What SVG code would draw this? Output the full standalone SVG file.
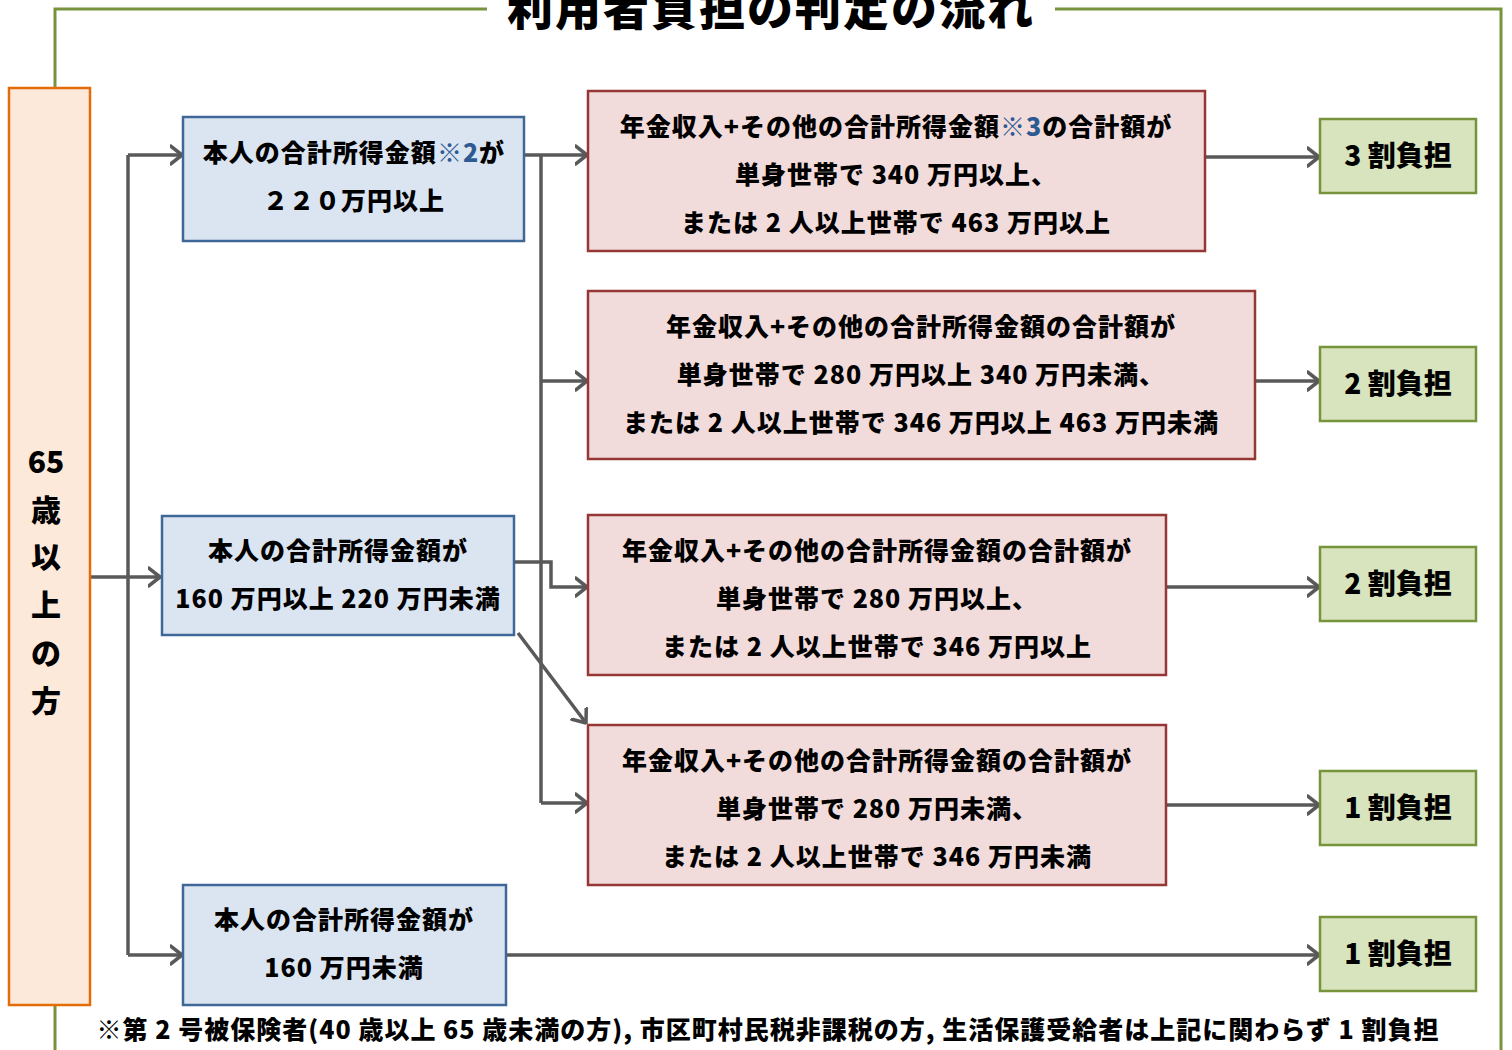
<svg xmlns="http://www.w3.org/2000/svg" width="1512" height="1050" viewBox="0 0 1512 1050">
<defs>
<style>
.t{font-family:"Noto Sans CJK JP","Noto Sans CJK SC",sans-serif;font-weight:900;fill:#000;text-anchor:middle}
.b{font-size:25px;letter-spacing:1px}
.blue{fill:#DBE5F1;stroke:#3F6797;stroke-width:2.5}
.red{fill:#F2DCDB;stroke:#953735;stroke-width:2.5}
.green{fill:#D7E4BD;stroke:#77933C;stroke-width:2.5}
.note{fill:#2E5A94}
.c{fill:none;stroke:#595959;stroke-width:3.5}
.a{marker-end:url(#arr)}
</style>
<marker id="arr" viewBox="0 0 14 22" refX="12.5" refY="11" markerWidth="14" markerHeight="22" markerUnits="userSpaceOnUse" orient="auto">
<path d="M1,2 L12.5,11 L1,20" fill="none" stroke="#595959" stroke-width="3.5" stroke-linecap="round" stroke-linejoin="round"/>
</marker>
</defs>
<rect width="1512" height="1050" fill="#fff"/>
<g id="frame">
<path d="M487,9 H55 V1050 M1055,9 H1501 V1050" fill="none" stroke="#77933C" stroke-width="3"/>
<text class="t" x="771" y="25" font-size="46" letter-spacing="2">利用者負担の判定の流れ</text>
</g>
<g id="connectors">
<path class="c a" d="M90,577 H160"/>
<path class="c" d="M128,155 V955"/>
<path class="c a" d="M128,155 H182"/>
<path class="c a" d="M128,955 H182"/>
<path class="c a" d="M524,155 H587"/>
<path class="c" d="M541,155 V803"/>
<path class="c a" d="M541,381 H587"/>
<path class="c a" d="M541,803 H587"/>
<path class="c a" d="M514,562 H551 V587 H587"/>
<path class="c a" d="M518,633 L586,723"/>
<path class="c a" d="M1205,157 H1319"/>
<path class="c a" d="M1255,381 H1319"/>
<path class="c a" d="M1166,587 H1319"/>
<path class="c a" d="M1166,805 H1319"/>
<path class="c a" d="M506,955 H1319"/>
</g>
<g id="age">
<rect x="9" y="88" width="81" height="917" fill="#FDE9D9" stroke="#E36C09" stroke-width="2.5"/>
<g class="t" font-size="30">
<text x="46" y="473">65</text>
<text x="46" y="521">歳</text>
<text x="46" y="568">以</text>
<text x="46" y="616">上</text>
<text x="46" y="664">の</text>
<text x="46" y="712">方</text>
</g>
</g>
<g id="inc-high">
<rect class="blue" x="183" y="117" width="341" height="124"/>
<text class="t b" x="354" y="162">本人の合計所得金額<tspan class="note">※2</tspan>が</text>
<text class="t b" x="354" y="210">２２０万円以上</text>
</g>
<g id="inc-mid">
<rect class="blue" x="162" y="516" width="352" height="119"/>
<text class="t b" x="338" y="560">本人の合計所得金額が</text>
<text class="t b" x="338" y="608">160 万円以上 220 万円未満</text>
</g>
<g id="inc-low">
<rect class="blue" x="183" y="885" width="323" height="120"/>
<text class="t b" x="344" y="929">本人の合計所得金額が</text>
<text class="t b" x="344" y="977">160 万円未満</text>
</g>
<g id="cond1">
<rect class="red" x="588" y="91" width="617" height="160"/>
<text class="t b" x="896" y="136">年金収入+その他の合計所得金額<tspan class="note">※3</tspan>の合計額が</text>
<text class="t b" x="896" y="184">単身世帯で 340 万円以上、</text>
<text class="t b" x="896" y="232">または 2 人以上世帯で 463 万円以上</text>
</g>
<g id="cond2">
<rect class="red" x="588" y="291" width="667" height="168"/>
<text class="t b" x="921" y="336">年金収入+その他の合計所得金額の合計額が</text>
<text class="t b" x="921" y="384">単身世帯で 280 万円以上 340 万円未満、</text>
<text class="t b" x="921" y="432">または 2 人以上世帯で 346 万円以上 463 万円未満</text>
</g>
<g id="cond3">
<rect class="red" x="588" y="515" width="578" height="160"/>
<text class="t b" x="877" y="560">年金収入+その他の合計所得金額の合計額が</text>
<text class="t b" x="877" y="608">単身世帯で 280 万円以上、</text>
<text class="t b" x="877" y="656">または 2 人以上世帯で 346 万円以上</text>
</g>
<g id="cond4">
<rect class="red" x="588" y="725" width="578" height="160"/>
<text class="t b" x="877" y="770">年金収入+その他の合計所得金額の合計額が</text>
<text class="t b" x="877" y="818">単身世帯で 280 万円未満、</text>
<text class="t b" x="877" y="866">または 2 人以上世帯で 346 万円未満</text>
</g>
<g id="res1">
<rect class="green" x="1320" y="119" width="156" height="74"/>
<text class="t" x="1398" y="166" font-size="28">3 割負担</text>
</g>
<g id="res2">
<rect class="green" x="1320" y="347" width="156" height="74"/>
<text class="t" x="1398" y="394" font-size="28">2 割負担</text>
</g>
<g id="res3">
<rect class="green" x="1320" y="547" width="156" height="74"/>
<text class="t" x="1398" y="594" font-size="28">2 割負担</text>
</g>
<g id="res4">
<rect class="green" x="1320" y="771" width="156" height="74"/>
<text class="t" x="1398" y="818" font-size="28">1 割負担</text>
</g>
<g id="res5">
<rect class="green" x="1320" y="917" width="156" height="74"/>
<text class="t" x="1398" y="964" font-size="28">1 割負担</text>
</g>
<g id="footnote">
<text class="t b" x="768" y="1039">※第 2 号被保険者(40 歳以上 65 歳未満の方), 市区町村民税非課税の方, 生活保護受給者は上記に関わらず 1 割負担</text>
</g>
</svg>
